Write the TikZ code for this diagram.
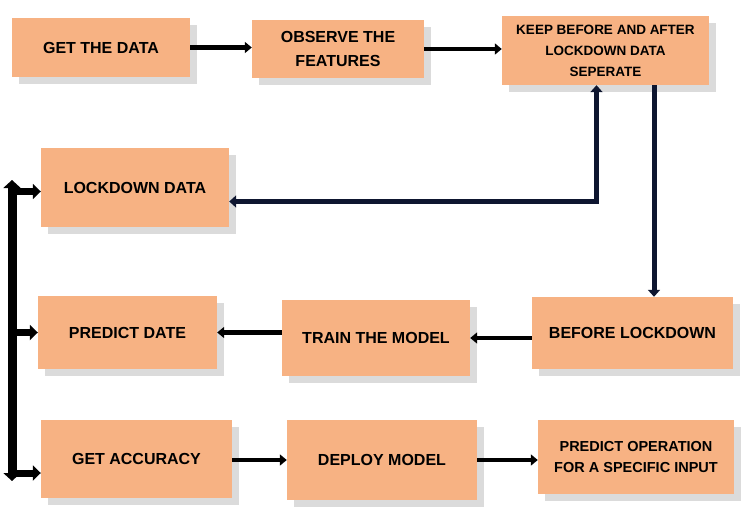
\documentclass[tikz,border=0pt]{standalone}
\usepackage{fontspec}
\setmainfont{Liberation Sans}
\usetikzlibrary{arrows.meta, calc, shadows}
\definecolor{peach}{RGB}{247,178,131}
\definecolor{navyline}{RGB}{14,22,48}

\begin{document}
\begin{tikzpicture}[x=1pt, y=-1pt,
stage/.style={fill=peach, draw=none, inner sep=0pt, align=center, font=\bfseries\fontsize{16}{24}\selectfont, drop shadow={shadow xshift=7pt, shadow yshift=-7pt, fill=black!14, opacity=1}},
flow/.style={line width=4.5pt, -{Triangle[length=7pt,width=11pt]}},
link/.style={navyline, line width=5pt, -{Triangle[length=7pt,width=12pt]}},
bar/.style={line width=9pt, {Triangle[length=8pt,width=17pt]}-{Triangle[length=8pt,width=17pt]}},
branch/.style={line width=7pt, -{Triangle[length=8pt,width=15pt]}}]
\useasboundingbox (0,0) rectangle (742,527);
\node[stage, minimum width=178pt, minimum height=59pt] (data) at (101,47.5) {GET THE DATA};
\node[stage, minimum width=172pt, minimum height=58pt] (observe) at (338,49) {OBSERVE THE\\FEATURES};
\node[stage, minimum width=207pt, minimum height=69pt, font=\bfseries\fontsize{13.5}{21}\selectfont] (keep) at (605.5,50.5) {KEEP BEFORE AND AFTER\\LOCKDOWN DATA\\SEPERATE};
\node[stage, minimum width=188pt, minimum height=79pt] (lockdown) at (135,187.5) {LOCKDOWN DATA};
\node[stage, minimum width=179pt, minimum height=73pt] (predict) at (127.5,332.5) {PREDICT DATE};
\node[stage, minimum width=188pt, minimum height=76pt] (train) at (376,338) {TRAIN THE MODEL};
\node[stage, minimum width=201pt, minimum height=72pt] (before) at (632.5,333) {BEFORE LOCKDOWN};
\node[stage, minimum width=191pt, minimum height=78pt] (accuracy) at (136.5,459) {GET ACCURACY};
\node[stage, minimum width=190pt, minimum height=80pt] (deploy) at (382,460) {DEPLOY MODEL};
\node[stage, minimum width=196pt, minimum height=74pt, font=\bfseries\fontsize{14.5}{21}\selectfont] (operation) at (636,457) {PREDICT OPERATION\\FOR A SPECIFIC INPUT};
\draw[flow] (data.east) -- (data.east -| observe.west);
\draw[flow] (observe.east) -- (observe.east -| keep.west);
\path (keep.south) ++(-9,0) coordinate (keepin);
\path (keep.south) ++(48.5,0) coordinate (keepout);
\path (lockdown.east) ++(0,14) coordinate (lockout);
\draw[link, {Triangle[length=7pt,width=12pt]}-{Triangle[length=7pt,width=12pt]}] (lockout) -| (keepin);
\draw[link] (keepout) -- (keepout |- before.north);
\draw[flow] (before.west |- train.east) -- (train.east);
\draw[flow] (train.west |- predict.east) -- (predict.east);
\draw[flow] (accuracy.east |- deploy.west) -- (deploy.west);
\draw[flow] (deploy.east) -- (deploy.east -| operation.west);
\coordinate (bartop) at (12,180);
\coordinate (barbot) at (12,481);
\draw[bar] (bartop) -- (barbot);
\path (lockdown.west) ++(0,4) coordinate (lockin);
\path (accuracy.west) ++(0,14) coordinate (accin);
\draw[branch] (bartop |- lockin) -- (lockin);
\draw[branch] (bartop |- predict.west) -- (predict.west);
\draw[branch] (bartop |- accin) -- (accin);
\end{tikzpicture}
\end{document}
